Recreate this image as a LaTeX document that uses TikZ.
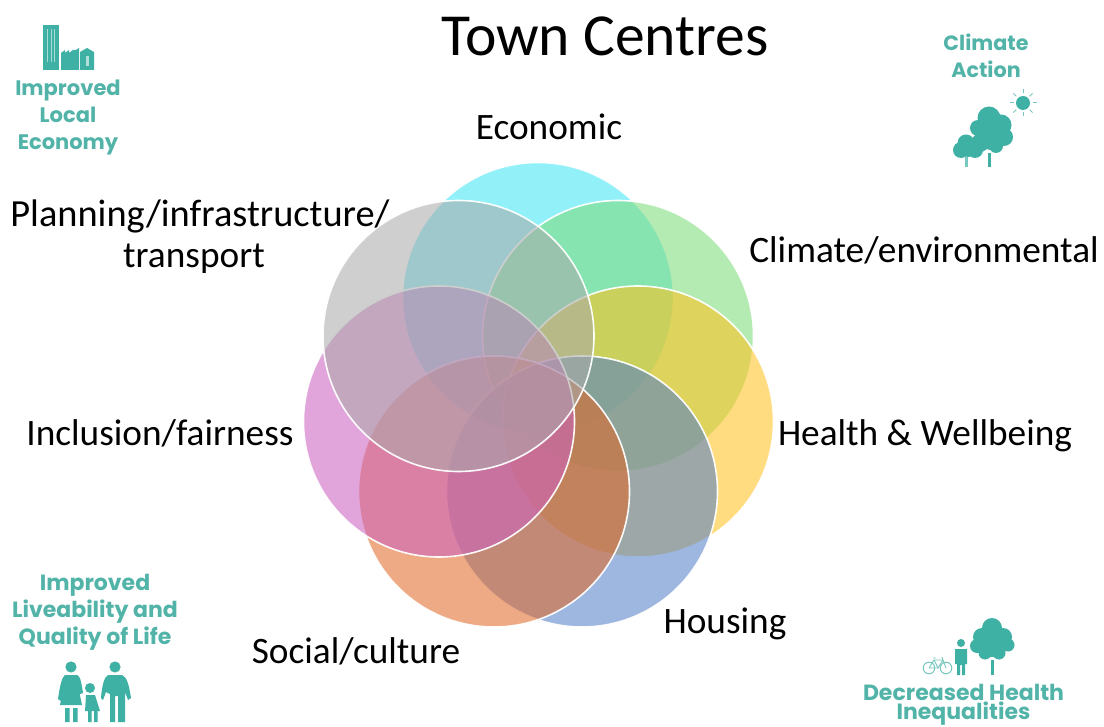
\documentclass[tikz,border=0pt]{standalone}
\usepackage{fontspec}
\setmainfont{Carlito}
\newfontfamily\iconfont{Poppins}
\definecolor{teal1}{HTML}{3FB0A4}
\definecolor{tealtxt}{HTML}{52B4A8}
\definecolor{cEco}{HTML}{3EE6F5}
\definecolor{cCli}{HTML}{7BDC78}
\definecolor{cHea}{HTML}{FFC11B}
\definecolor{cHou}{HTML}{527FC8}
\definecolor{cSoc}{HTML}{E16626}
\definecolor{cInc}{HTML}{CC60BF}
\definecolor{cPla}{HTML}{AAAAAA}
\tikzset{
  venn/.style={circle,minimum size=271pt,inner sep=0pt,draw=white,line width=1.6pt,fill opacity=.56,draw opacity=.95},
  lab/.style={font=\fontsize{37.3}{41}\selectfont,text=black,inner sep=0pt,align=center},
  icontext/.style={font=\iconfont\bfseries\fontsize{#1}{27}\selectfont,text=tealtxt,inner sep=0pt,align=center},
  ic/.style={fill=teal1,draw=none},
}
\begin{document}
\begin{tikzpicture}[x=1pt,y=-1pt]
\useasboundingbox[fill=white] (0,0) rectangle (1104,727);
% Venn circles
\node[venn,fill=cEco] (eco) at (538,298) {};
\node[venn,fill=cCli] (cli) at (618,336) {};
\node[venn,fill=cHea] (hea) at (638,421.5) {};
\node[venn,fill=cHou] (hou) at (582,491.5) {};
\node[venn,fill=cSoc] (soc) at (494,491.5) {};
\node[venn,fill=cInc] (inc) at (439,421.5) {};
\node[venn,fill=cPla] (pla) at (458.5,336) {};
% Labels
\node[inner sep=0pt,text=black,font=\fontsize{59.6}{66}\selectfont] (title) at (605,36) {Town Centres};
\node[lab] (lEco) at (549,127) {Economic};
\node[lab,font=\fontsize{38.4}{41}\selectfont] (lPla) at (200,237) {Planning/infrastructure/\\{\fontsize{37.3}{41}\selectfont transport\kern12pt}};
\node[lab] (lCli) at (924,250) {Climate/environmental};
\node[lab] (lInc) at (160,433) {Inclusion/fairness};
\node[lab] (lHea) at (925,436) {Health \& Wellbeing};
\node[lab] (lHou) at (725,624) {Housing};
\node[lab] (lSoc) at (356,651) {Social/culture};
% Icon: Improved Local Economy
\node[icontext=21] (t1) at (68,118) {Improved\\Local\\Economy};
\fill[ic] (43,25) rectangle (59,70);
\foreach \x in {47,50.5,54}{\fill[white,opacity=.55] (\x,29) rectangle (\x+1.2,62);}
\fill[ic] (61,70) -- (61,53) -- (65,50) -- (65,53) -- (69,50) -- (69,53) -- (73,50) -- (76,50) -- (79,48) -- (79,70) -- cycle;
\fill[ic] (80,70) -- (80,52) -- (87,48) -- (94,52) -- (94,70) -- cycle;
\fill[white,opacity=.6] (85.5,56) rectangle (88.5,66);
% Icon: Climate Action
\node[icontext=20.7] (t2) at (986,55.5) {Climate\\Action};
\fill[ic] (1023,103) circle (7);
\foreach \a in {0,45,...,315}{\draw[teal1,line width=1pt,opacity=.7] (1023,103) ++(\a:9.5) -- ++(\a:4);}
\fill[ic] (989,118) circle (11.5) (1001,125) circle (10.5) (1004,137) circle (9) (992,134) circle (16)
 (978,128) circle (8) (980,143) circle (9) (996,146) circle (7);
\fill[ic] (966,143) circle (8.5) (961,150) circle (8) (975,150) circle (8) (968,150) circle (7);
\fill[ic] (987.5,153) rectangle (991,167);
\fill[teal1!70] (964.5,157) rectangle (967.5,167);
% Icon: Improved Liveability and Quality of Life
\node[icontext=22] (t3) at (95,612) {Improved\\Liveability and\\Quality of Life};
% mother
\fill[ic] (71,667) circle (5.6);
\fill[ic] (65,675) -- (77,675) .. controls (80,676) and (81,680) .. (83,693) -- (80,694) -- (78,686) -- (82,705) -- (60,705) -- (64,686) -- (61,701) -- (58,699) .. controls (60,685) and (62,677) .. (65,675) -- cycle;
\fill[ic] (65,708) rectangle (69.5,722) (73,708) rectangle (77.5,722);
% father
\fill[ic] (115,667) circle (5.6);
\fill[ic] (108,675) -- (122,675) .. controls (127,677) and (129,685) .. (131,698) -- (128,700) -- (125,692) -- (125,694) -- (125,722) -- (118,722) -- (118,696) -- (115,696) -- (115,722) -- (110,722) -- (110,694) -- (106,692) -- (103,700) -- (101,698) .. controls (102,686) and (104,677) .. (108,675) -- cycle;
% child
\fill[ic] (90,688) circle (5);
\fill[ic] (86,695) -- (95,695) -- (100,711) -- (85,711) -- cycle;
\fill[ic] (88,711) rectangle (91.5,722) (94,711) rectangle (97.5,722);
% Icon: Decreased Health Inequalities
\node[icontext=22] (t4a) at (963.5,692) {Decreased Health};
\node[icontext=22] (t4b) at (963.5,714) {Inequalities};
\fill[ic] (992,628) circle (10) (982,637) circle (9) (1003,637) circle (9) (977,646) circle (7) (1008,645) circle (6.5) (992,641) circle (16) (985,653) circle (6.5) (999,653) circle (6.5);
\fill[ic] (990.5,660) rectangle (993.5,675);
\fill[ic] (961,643) circle (4);
\fill[ic] (955,649) -- (967,649) -- (967,664) -- (965,664) -- (965,675) -- (962,675) -- (962,665) -- (960,665) -- (960,675) -- (957,675) -- (957,664) -- (955,664) -- cycle;
\draw[teal1!70,line width=1pt] (929,668) circle (5.8) (946,668) circle (5.8);
\draw[teal1!70,line width=.9pt] (929,668) -- (934,660) -- (943,660) -- (946,668) (934,660) -- (938,668) -- (943,660) (938,668) -- (929,668) (933,658) -- (936,658) (943,660) -- (942,657);
\end{tikzpicture}
\end{document}
